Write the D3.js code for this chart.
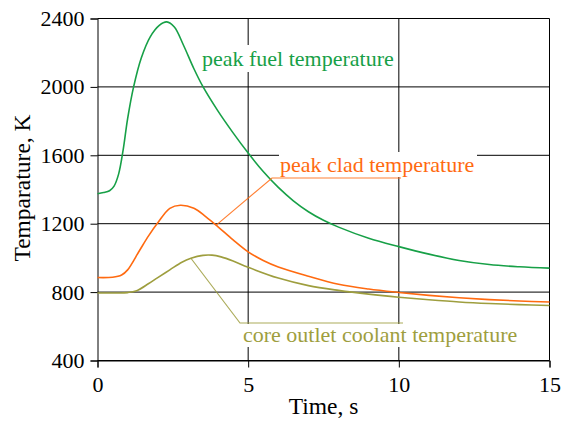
<!DOCTYPE html>
<html>
<head>
<meta charset="utf-8">
<script src="https://cdn.jsdelivr.net/npm/d3@7"></script>
<style>
  html, body { margin: 0; padding: 0; background: #fff; }
  svg { display: block; }
  svg text { font-family: "Liberation Serif", "Times New Roman", "DejaVu Serif", serif !important; }
</style>
</head>
<body>
<svg id="chart" width="562" height="423"></svg>
<script>
// Transient temperatures (K) versus time (s)
const fuelTime = [0, 0.2, 0.4, 0.55, 0.7, 0.85, 1.0, 1.2, 1.45, 1.75, 2.05, 2.3, 2.55, 2.85, 3.2, 3.5, 4.0, 4.5, 5.0, 5.5, 6.0, 6.5, 7.0, 7.5, 8.0, 9.0, 10.0, 11.0, 12.0, 13.0, 14.0, 15.0];
const fuelTemp = [1375, 1382, 1393, 1420, 1490, 1630, 1815, 2002, 2168, 2293, 2360, 2380, 2350, 2245, 2106, 2001, 1858, 1731, 1613, 1505, 1412, 1334, 1270, 1220, 1180, 1115, 1066, 1022, 985, 961, 948, 940];

const cladTime = [0, 0.5, 0.8, 1.0, 1.4, 1.7, 2.0, 2.4, 2.75, 3.2, 3.6, 4.0, 4.5, 5.0, 5.5, 6.0, 7.0, 8.0, 9.0, 10.0, 11.0, 12.0, 13.0, 14.0, 15.0];
const cladTemp = [885, 887, 900, 930, 1045, 1130, 1205, 1290, 1308, 1290, 1240, 1182, 1105, 1035, 985, 947, 893, 846, 818, 798, 781, 767, 756, 748, 742];

const coolTime = [0, 0.6, 1.0, 1.3, 1.7, 2.0, 2.4, 2.8, 3.1, 3.5, 3.8, 4.1, 4.5, 5.0, 6.0, 7.0, 8.0, 9.0, 10.0, 11.0, 12.0, 13.0, 14.0, 15.0];
const coolTemp = [795, 795, 797, 808, 850, 885, 930, 975, 998, 1015, 1016, 1006, 982, 945, 882, 838, 810, 788, 770, 755, 742, 733, 727, 722];

const xTicks = [0, 5, 10, 15];
const yTicks = [400, 800, 1200, 1600, 2000, 2400];

const seriesNames = ["peak fuel temperature", "peak clad temperature", "core outlet coolant temperature"];
const seriesColors = ["#17a047", "#ff6a10", "#9e9e3e"];

const svg = d3.select("#chart");
const plotLeft = 97.5, plotRight = 549.5, plotTop = 18.5, plotBottom = 360.5;
const serif = "Liberation Serif, Times New Roman, DejaVu Serif, serif";

const x = d3.scaleLinear().domain([0, 15]).range([plotLeft, plotRight]);
const y = d3.scaleLinear().domain([400, 2400]).range([plotBottom, plotTop]);

// grid
const grid = svg.append("g").attr("stroke", "#000").attr("stroke-width", 1);
grid.selectAll("line.h").data(yTicks).join("line")
  .attr("class", "h")
  .attr("x1", plotLeft).attr("x2", plotRight)
  .attr("y1", d => y(d)).attr("y2", d => y(d));
grid.selectAll("line.v").data(xTicks.slice(1)).join("line")
  .attr("class", "v")
  .attr("y1", plotTop).attr("y2", plotBottom)
  .attr("x1", d => x(d)).attr("x2", d => x(d));

// axes
const fontSize = 22;
const xAxis = svg.append("g").attr("transform", `translate(0,${plotBottom})`)
  .call(d3.axisBottom(x).tickValues(xTicks).tickSize(7).tickPadding(9).tickFormat(d3.format("d")));
const yAxis = svg.append("g").attr("transform", `translate(${plotLeft},0)`)
  .call(d3.axisLeft(y).tickValues(yTicks).tickSize(7).tickPadding(6).tickFormat(d3.format("d")));
[xAxis, yAxis].forEach(a => {
  a.attr("font-family", serif).attr("font-size", fontSize);
  a.select(".domain").attr("stroke", "#000");
  a.selectAll(".tick line").attr("stroke", "#000");
  a.selectAll(".tick text").attr("fill", "#000");
});

// curves
const line = d3.line().x(d => x(d[0])).y(d => y(d[1])).curve(d3.curveCatmullRom.alpha(0.5));
const series = [
  d3.zip(fuelTime, fuelTemp),
  d3.zip(cladTime, cladTemp),
  d3.zip(coolTime, coolTemp)
];
series.forEach((s, i) => {
  svg.append("path").datum(s)
    .attr("fill", "none")
    .attr("stroke", seriesColors[i])
    .attr("stroke-width", 1.6)
    .attr("d", line);
});

// annotations: white box, leader with underline, and label
function annotate(opts) {
  const g = svg.append("g");
  g.append("rect")
    .attr("x", opts.box[0]).attr("y", opts.box[1])
    .attr("width", opts.box[2]).attr("height", opts.box[3])
    .attr("fill", "#fff");
  if (opts.leader) {
    const p = opts.leader;
    g.append("polyline")
      .attr("points", `${x(p.t)},${y(p.v)} ${p.elbow[0]},${p.elbow[1]} ${p.end},${p.elbow[1]}`)
      .attr("fill", "none").attr("stroke", opts.color).attr("stroke-width", 1.2)
      .attr("opacity", 0.85);
  }
  g.append("text")
    .attr("x", opts.tx).attr("y", opts.ty)
    .attr("font-family", serif)
    .attr("font-size", fontSize)
    .attr("fill", opts.color)
    .text(opts.label);
}

annotate({ label: seriesNames[0], color: seriesColors[0], tx: 202, ty: 66, box: [200, 45, 197, 27] });
annotate({ label: seriesNames[1], color: seriesColors[1], tx: 280, ty: 172, box: [279, 152, 198, 25],
  leader: { t: 3.93, v: 1190, elbow: [272, 178], end: 401 } });
annotate({ label: seriesNames[2], color: seriesColors[2], tx: 243, ty: 342, box: [240, 324, 285, 23],
  leader: { t: 3.1, v: 998, elbow: [240, 323], end: 403 } });

// axis titles
svg.append("text")
  .attr("x", (plotLeft + plotRight) / 2).attr("y", 414)
  .attr("text-anchor", "middle").attr("font-family", serif).attr("font-size", 23.5).attr("fill", "#000")
  .text("Time, s");
svg.append("text")
  .attr("transform", "translate(30,188) rotate(-90)")
  .attr("text-anchor", "middle").attr("font-family", serif).attr("font-size", 23.5).attr("fill", "#000")
  .text("Temparature, K");
</script>
</body>
</html>
